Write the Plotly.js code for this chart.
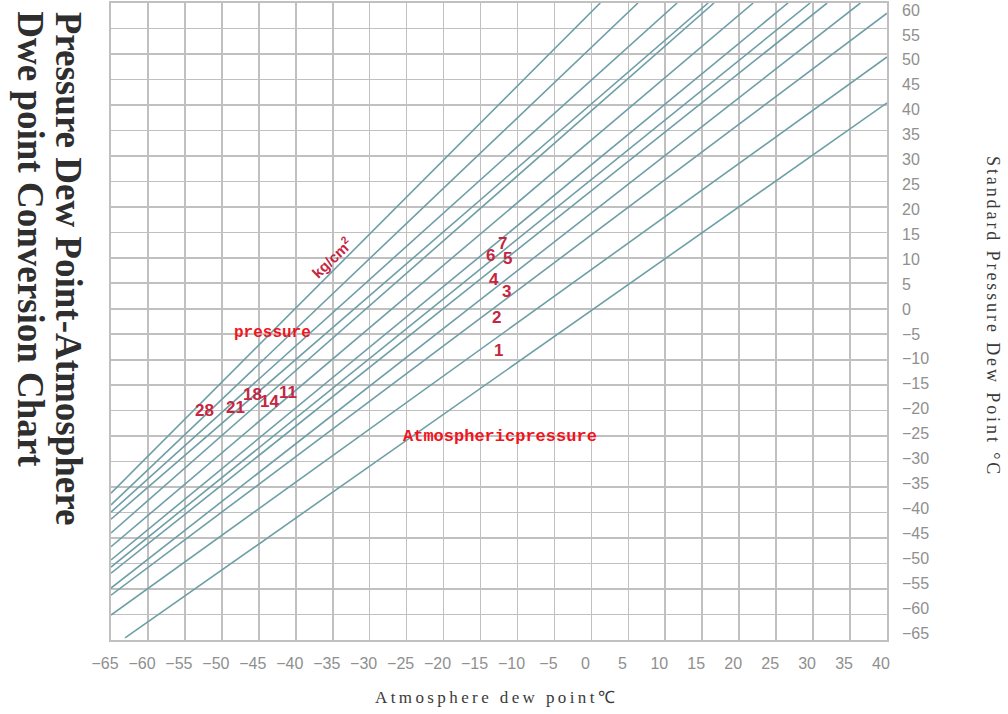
<!DOCTYPE html>
<html>
<head>
<meta charset="utf-8">
<script src="https://cdn.plot.ly/plotly-3.0.1.min.js"></script>
<style>
html,body{margin:0;padding:0;background:#ffffff;}
#chart{width:1008px;height:714px;}
</style>
</head>
<body>
<div id="chart"></div>
<script>
// Pressure lines (kg/cm2 gauge), straight lines
const pressures   = ['0', '1', '2', '3', '4', '5', '6', '7', '11', '14', '18', '21', '28'];
const atmDewStart = [-63.1, -65, -65, -65, -65, -65, -65, -65, -65, -65, -65, -65, -65];
const stdDewStart = [-64.6, -60.1, -56.2, -54.8, -51.9, -50.7, -49.3, -46.7, -44.0, -41.3, -39.9, -38.5, -36.2];
const atmDewEnd   = [40, 40, 40, 36.4, 31.9, 29.6, 26.6, 21.9, 16.6, 15.8, 11.6, 6.3, 1.2];
const stdDewEnd   = [40.4, 49.4, 58.0, 60, 60, 60, 60, 60, 60, 60, 60, 60, 60];

const xTickVals = [-65,-60,-55,-50,-45,-40,-35,-30,-25,-20,-15,-10,-5,0,5,10,15,20,25,30,35,40];
const yTickVals = [-65,-60,-55,-50,-45,-40,-35,-30,-25,-20,-15,-10,-5,0,5,10,15,20,25,30,35,40,45,50,55,60];

const mainTitle1 = 'Pressure Dew Point-Atmosphere';
const mainTitle2 = 'Dwe point Conversion Chart';
const xTitle = 'Atmosphere dew point℃';
const yTitle = 'Standard Pressure Dew Point °C';

const lineColor = '#6e9ea7';
const gridColor = '#c0c0c0';
const labelRed = '#c4263f';
const tickFont = {family: 'Liberation Sans, Arial, sans-serif', size: 16, color: '#8f8f8f'};

const traces = pressures.map((p, i) => ({
  type: 'scatter',
  mode: 'lines',
  name: p,
  x: [atmDewStart[i], atmDewEnd[i]],
  y: [stdDewStart[i], stdDewEnd[i]],
  xaxis: 'x', yaxis: 'y',
  line: {color: lineColor, width: 1.6},
  hoverinfo: 'skip',
  showlegend: false
}));

// pressure value labels (text taken from the pressures list)
const labelPlaces = {
  '28': [-52.3, -19.9], '21': [-48.2, -19.3], '18': [-45.9, -16.9],
  '14': [-43.5, -18.1], '11': [-41.0, -16.5],
  '7': [-12.0, 12.9], '6': [-13.7, 10.5], '5': [-11.3, 9.8],
  '4': [-13.2, 5.8], '3': [-11.55, 3.3], '2': [-12.8, -1.8], '1': [-12.6, -8.1]
};
const annotations = [];
pressures.forEach(p => {
  if (!labelPlaces[p]) return;
  annotations.push({
    x: labelPlaces[p][0], y: labelPlaces[p][1], xref: 'x', yref: 'y',
    text: p, showarrow: false, xanchor: 'center', yanchor: 'middle',
    font: {family: 'Liberation Sans, Arial, sans-serif', size: 17, color: labelRed, weight: 'bold'}
  });
});
annotations.push({
  x: -35.2, y: 10.0, xref: 'x', yref: 'y', text: 'kg/cm<sup>2</sup>', showarrow: false,
  textangle: -44, xanchor: 'center', yanchor: 'middle',
  font: {family: 'Liberation Sans, Arial, sans-serif', size: 15, color: labelRed, weight: 'bold'}
});
annotations.push({
  x: -43.2, y: -4.8, xref: 'x', yref: 'y', text: 'pressure', showarrow: false,
  xanchor: 'center', yanchor: 'middle',
  font: {family: 'Liberation Mono, monospace', size: 16, color: '#f0141e', weight: 'bold'}
});
annotations.push({
  x: -12.4, y: -25.0, xref: 'x', yref: 'y', text: 'Atmosphericpressure', showarrow: false,
  xanchor: 'center', yanchor: 'middle',
  font: {family: 'Liberation Mono, monospace', size: 17, color: '#f0141e', weight: 'bold'}
});
// left big title (two rotated lines)
annotations.push({
  xref: 'paper', yref: 'paper', x: -0.0545, y: 0.990, xanchor: 'center', yanchor: 'top',
  text: mainTitle1, showarrow: false, textangle: 90,
  font: {family: 'Liberation Serif, Times New Roman, serif', size: 37, color: '#2e2e2e', weight: 'bold'}
});
annotations.push({
  xref: 'paper', yref: 'paper', x: -0.1030, y: 0.990, xanchor: 'center', yanchor: 'top',
  text: mainTitle2, showarrow: false, textangle: 90,
  font: {family: 'Liberation Serif, Times New Roman, serif', size: 37, color: '#2e2e2e', weight: 'bold'}
});
// right axis title
annotations.push({
  xref: 'paper', yref: 'paper', x: 1.1366, y: 0.5086, xanchor: 'center', yanchor: 'middle',
  text: '<span style="letter-spacing:2.9px">' + yTitle + '</span>', showarrow: false, textangle: 90,
  font: {family: 'Liberation Serif, Times New Roman, serif', size: 18, color: '#3a3a3a'}
});
// bottom axis title
annotations.push({
  xref: 'paper', yref: 'paper', x: 0.497, y: -0.0895, xanchor: 'center', yanchor: 'middle',
  text: '<span style="letter-spacing:3.4px">' + xTitle + '</span>', showarrow: false,
  font: {family: 'Liberation Serif, Times New Roman, serif', size: 17, color: '#3a3a3a'}
});

const layout = {
  width: 1008, height: 714,
  margin: {l: 111, r: 121, t: 3, b: 74, pad: 0},
  paper_bgcolor: '#ffffff', plot_bgcolor: '#ffffff',
  showlegend: false,
  xaxis: {
    range: [-65, 40], tickvals: xTickVals, ticks: '', showgrid: true,
    gridcolor: gridColor, gridwidth: 1.6, zeroline: false,
    showline: true, mirror: true, linecolor: gridColor, linewidth: 1.6,
    tickfont: tickFont, ticklabelstandoff: 8, ticklabelshift: -6, fixedrange: true
  },
  yaxis: {
    range: [-65, 60], tickvals: yTickVals, ticks: '', showticklabels: false, showgrid: true,
    gridcolor: gridColor, gridwidth: 1.6, zeroline: false,
    showline: true, mirror: true, linecolor: gridColor, linewidth: 1.6, fixedrange: true
  },
  // label-bearing axis (labels sit slightly offset from the grid, as in the source chart)
  yaxis2: {
    overlaying: 'y', anchor: 'x', side: 'right', range: [-66.40, 61.40],
    tickvals: yTickVals, ticks: '', showgrid: false, zeroline: false, showline: false,
    tickfont: tickFont, ticklabelstandoff: 14, fixedrange: true
  },
  annotations: annotations
};

// an empty trace so the label axis is drawn
traces.push({type: 'scatter', mode: 'lines', x: [], y: [], xaxis: 'x', yaxis: 'y2',
  hoverinfo: 'skip', showlegend: false});

Plotly.newPlot('chart', traces, layout, {staticPlot: true, displayModeBar: false});
</script>
</body>
</html>
